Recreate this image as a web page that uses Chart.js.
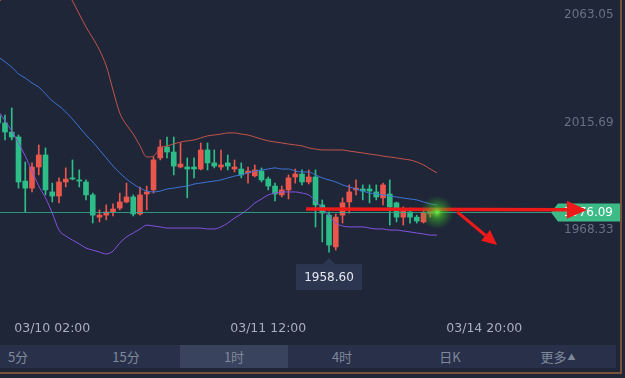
<!DOCTYPE html>
<html>
<head>
<meta charset="utf-8">
<script src="https://cdn.jsdelivr.net/npm/chart.js@4.4.1/dist/chart.umd.min.js"></script>
<style>
html, body { margin: 0; padding: 0; background: #1f2638; overflow: hidden; }
#wrap { position: relative; width: 625px; height: 378px; background: #1f2638; }
#box { position: absolute; left: 0; top: 0; width: 625px; height: 343px; }
.bar { position: absolute; left: 0; top: 345px; width: 616px; height: 23px; background: #29314a; overflow: hidden;
       font-family: "Noto Sans CJK SC", sans-serif; font-size: 13px; color: #7f889b; }
.bar span { position: absolute; top: 0; height: 23px; line-height: 23px; width: 108px; text-align: center; }
.bar span.on { background: #3a435e; }
.bar small { font-size: 8px; vertical-align: 2px; margin-left: 1px; }
.frameR { position: absolute; left: 620px; top: 0; width: 2px; height: 374px; background: #7a5238; }
.frameB { position: absolute; left: 0; top: 372px; width: 622px; height: 2px; background: #7a5238; }
</style>
</head>
<body>
<div id="wrap">
  <div id="box"><canvas id="kChart"></canvas></div>
  <div class="bar" id="periodBar"></div>
  <div class="frameR"></div>
  <div class="frameB"></div>
</div>
<script>
// 1 hour candles, index 0 is the one cut by the left edge
const open  = [2018.6,2015.5,2011.5,2009.3,1989.9,1986.8,1996.1,2001.4,1985.1,1983.3,1989.5,1991.3,1990.4,1989.5,1983.8,1974.0,1974.9,1976.3,1978.0,1980.7,1982.9,1975.4,1984.2,1986.0,2000.1,2004.9,2002.7,1996.1,1996.1,1996.1,1995.2,2003.6,1997.9,1996.1,1997.9,1995.2,1995.2,1993.5,1992.2,1994.3,1990.8,1987.7,1983.8,1986.0,1991.7,1993.0,1989.5,1991.7,1979.4,1974.9,1960.9,1974.9,1980.7,1986.0,1986.4,1986.4,1985.1,1982.5,1984.2,1980.3,1974.0,1976.3,1974.0,1971.9,1975.4,1976.7]
const high  = [2020.3,2019.0,2022.1,2010.2,1998.3,1997.9,2005.8,2004.5,1989.0,1991.3,1995.7,1999.2,1994.8,1990.4,1984.6,1977.2,1979.4,1979.9,1984.6,1989.0,1983.8,1987.3,1987.7,2000.5,2008.0,2009.3,2009.3,2006.7,2000.1,2000.1,2006.7,2006.7,2003.6,2003.6,2001.4,1999.2,1997.9,1996.1,1997.0,1995.7,1991.7,1989.0,1987.7,1992.6,1995.2,1994.8,1994.8,1994.8,1981.6,1976.3,1975.4,1982.5,1988.2,1990.4,1988.2,1988.2,1988.2,1989.0,1990.4,1980.7,1978.5,1978.0,1974.9,1977.2,1978.0,1977.6]
const low   = [2014.2,2008.0,2008.0,1986.8,1976.3,1985.1,1992.6,1983.8,1980.7,1980.3,1987.3,1990.4,1987.3,1981.6,1971.4,1971.9,1972.8,1974.5,1977.2,1980.3,1974.5,1974.9,1977.2,1984.6,1999.2,2000.1,1992.6,1995.7,1982.5,1991.3,1994.8,1994.8,1995.7,1994.8,1994.8,1993.9,1991.3,1989.0,1991.7,1989.5,1986.0,1981.1,1982.9,1982.0,1989.0,1988.2,1988.6,1969.7,1963.1,1958.6,1959.5,1971.4,1975.8,1983.8,1981.6,1980.3,1981.6,1979.4,1970.5,1971.9,1970.5,1971.4,1971.4,1971.4,1974.0,1975.4]
const close = [2015.5,2011.5,2009.3,1989.5,1986.8,1996.1,2001.4,1986.0,1983.3,1989.5,1990.8,1990.8,1989.9,1983.8,1974.9,1974.9,1976.3,1977.6,1980.7,1982.9,1975.4,1983.8,1985.1,1999.2,2004.9,2002.7,1996.5,1997.4,1995.2,1995.2,2003.6,1997.9,1996.5,1997.0,1996.5,1996.1,1992.6,1994.3,1994.8,1990.4,1987.7,1984.2,1986.0,1991.3,1993.0,1989.5,1991.7,1979.4,1975.8,1961.7,1974.0,1980.3,1985.1,1986.8,1985.5,1985.5,1982.9,1988.2,1978.5,1974.0,1976.7,1974.0,1972.3,1975.8,1976.7,1976.09]

// Bollinger bands
const bollUp  = [2068.3,2071.9,2074.9,2077.6,2079.3,2081.1,2082.9,2083.8,2082.9,2080.2,2074.9,2069.2,2063.5,2057.8,2052.9,2047.6,2040.6,2030.0,2019.9,2014.6,2010.6,2005.4,2000.5,2000.9,2004.5,2005.4,2006.2,2007.1,2007.6,2008.0,2008.9,2009.8,2010.2,2010.6,2011.1,2011.1,2010.6,2010.2,2009.3,2008.4,2007.6,2007.1,2006.7,2006.2,2005.8,2005.4,2004.5,2004.0,2003.6,2003.6,2003.6,2003.6,2003.1,2002.7,2002.3,2001.8,2001.4,2000.9,2000.5,2000.1,1999.6,1999.2,1998.3,1997.0,1995.2,1993.5]
const bollMid = [2044.6,2042.4,2040.1,2037.1,2035.3,2033.1,2031.3,2028.3,2025.2,2023.0,2020.3,2017.2,2013.7,2010.2,2007.1,2003.6,2000.1,1996.5,1993.5,1990.8,1988.6,1986.8,1985.5,1985.1,1985.5,1986.4,1986.8,1987.3,1987.7,1988.6,1989.0,1989.5,1989.9,1990.4,1991.3,1992.1,1992.6,1993.5,1994.3,1994.8,1995.2,1995.7,1995.2,1995.2,1994.3,1993.9,1993.9,1992.6,1991.3,1990.4,1989.5,1988.2,1987.3,1986.4,1985.5,1984.6,1984.2,1983.8,1983.3,1982.9,1982.4,1982.0,1981.6,1980.7,1979.8,1979.4]
const bollLow = [2020.8,2016.4,2012.0,2006.7,2000.9,1994.3,1987.7,1982.5,1975.8,1968.3,1965.7,1963.9,1962.2,1960.4,1959.5,1958.6,1957.8,1959.1,1962.6,1965.3,1967.0,1968.8,1970.5,1970.1,1969.7,1969.2,1969.2,1969.2,1969.2,1969.2,1969.2,1968.8,1968.8,1969.7,1971.4,1973.6,1975.4,1977.6,1980.2,1982.0,1983.8,1984.6,1985.1,1985.1,1985.1,1984.6,1983.8,1981.1,1978.0,1974.5,1971.4,1970.1,1969.7,1969.7,1969.7,1969.2,1968.8,1968.8,1968.3,1968.3,1967.9,1967.5,1967.0,1966.6,1966.1,1966.1]

const yTicks = [2063.05, 2015.69, 1968.33]
const xTickAt = [8, 40, 72]
const xTickText = ['03/10 02:00', '03/11 12:00', '03/14 20:00']
const periods = ['5分', '15分', '1时', '4时', '日K', '更多▲']

const UP = '#e9564c', DOWN = '#2dbd88'

// period buttons under the chart
const barEl = document.getElementById('periodBar')
periods.forEach(function (p, i) {
    const s = document.createElement('span')
    s.innerHTML = p.replace('▲', '<small>▲</small>')
    s.style.left = (-36 + i * 108) + 'px'
    if (p === '1时') s.className = 'on'
    barEl.appendChild(s)
})

const idx = open.map((v, i) => i)
const isUp = i => close[i] >= open[i]
const candleColor = ctx => isUp(ctx.dataIndex) ? UP : DOWN

/*========================== marks on top =============================*/
const marks = {
    id: 'marks',
    afterDatasetsDraw(chart) {
        const c = chart.ctx, xs = chart.scales.x, ys = chart.scales.y, area = chart.chartArea
        const last = close.length - 1
        const lastY = ys.getPixelForValue(close[last])
        const lastX = xs.getPixelForValue(last)
        c.save()
        // last price line
        c.strokeStyle = 'rgba(52,170,140,0.85)'
        c.lineWidth = 1
        c.beginPath(); c.moveTo(area.left, Math.round(lastY) + 0.5); c.lineTo(552, Math.round(lastY) + 0.5); c.stroke()

        // last price tag
        c.fillStyle = '#3cbb86'
        c.beginPath()
        c.moveTo(551, lastY)
        c.lineTo(558, lastY - 9); c.lineTo(620, lastY - 9)
        c.lineTo(620, lastY + 9); c.lineTo(558, lastY + 9)
        c.closePath(); c.fill()
        c.fillStyle = '#ffffff'
        c.font = '12px "DejaVu Sans"'
        c.textAlign = 'right'; c.textBaseline = 'middle'
        c.fillText(close[last].toFixed(2), 613, lastY + 0.5)

        // hand drawn red arrows
        const arrows = [
            { from: [45.6, 1977.6], to: [87.2, 1977.2], head: 20, half: 9, w: 3.5 },
            { from: [68.0, 1976.3], to: [73.9, 1961.7], head: 15, half: 7, w: 3 }
        ]
        arrows.forEach(function (a) {
            const x1 = xs.getPixelForValue(a.from[0]), y1 = ys.getPixelForValue(a.from[1])
            const x2 = xs.getPixelForValue(a.to[0]), y2 = ys.getPixelForValue(a.to[1])
            const ang = Math.atan2(y2 - y1, x2 - x1)
            const bx = x2 - Math.cos(ang) * a.head, by = y2 - Math.sin(ang) * a.head
            c.strokeStyle = '#ee1a1a'; c.fillStyle = '#ee1a1a'; c.lineWidth = a.w
            c.beginPath(); c.moveTo(x1, y1); c.lineTo(bx, by); c.stroke()
            c.beginPath()
            c.moveTo(x2, y2)
            c.lineTo(bx + Math.sin(ang) * a.half, by - Math.cos(ang) * a.half)
            c.lineTo(bx - Math.sin(ang) * a.half, by + Math.cos(ang) * a.half)
            c.closePath(); c.fill()
        })

        // glow on the live candle
        const g = c.createRadialGradient(lastX, lastY, 0, lastX, lastY, 17)
        g.addColorStop(0, 'rgba(120,235,60,0.95)')
        g.addColorStop(0.35, 'rgba(70,200,40,0.55)')
        g.addColorStop(1, 'rgba(40,160,40,0)')
        c.fillStyle = g
        c.beginPath(); c.arc(lastX, lastY, 17, 0, Math.PI * 2); c.fill()

        // lowest price callout
        let lo = 0
        low.forEach((v, i) => { if (v < low[lo]) lo = i })
        const lx = xs.getPixelForValue(lo), ly = ys.getPixelForValue(low[lo]) + 6
        c.fillStyle = '#2d3651'
        c.beginPath(); c.moveTo(lx, ly); c.lineTo(lx + 6, ly + 6); c.lineTo(lx - 6, ly + 6); c.closePath(); c.fill()
        c.fillRect(lx - 33, ly + 6, 66, 26)
        c.fillStyle = '#e6e9ef'
        c.textAlign = 'center'
        c.fillText(low[lo].toFixed(2), lx, ly + 19.5)
        c.restore()
    }
}

/*========================== Chart =============================*/
const lineSet = (label, values, color) => ({
    type: 'line',
    label: label,
    data: values.map((v, i) => ({ x: i, y: v })),
    borderColor: color,
    borderWidth: 1,
    pointRadius: 0,
    cubicInterpolationMode: 'monotone',
    order: 0
})

new Chart(document.getElementById('kChart'), {
    type: 'bar',
    data: {
        datasets: [
            lineSet('UP', bollUp, '#c4544a'),
            lineSet('MID', bollMid, '#3f74d6'),
            lineSet('LOW', bollLow, '#8553e0'),
            {
                label: 'body',
                data: idx.map(i => ({ x: i, y: [open[i], close[i]] })),
                backgroundColor: candleColor,
                barThickness: 5,
                minBarLength: 1,
                grouped: false,
                order: 1
            },
            {
                label: 'wick',
                data: idx.map(i => ({ x: i, y: [low[i], high[i]] })),
                backgroundColor: candleColor,
                barThickness: 1,
                grouped: false,
                order: 2
            }
        ]
    },
    options: {
        responsive: true,
        maintainAspectRatio: false,
        animation: false,
        layout: { padding: 0 },
        plugins: { legend: { display: false }, tooltip: { enabled: false } },
        scales: {
            x: {
                type: 'linear',
                offset: false,
                min: 0.2593,
                max: 81.44,
                grid: { display: false, drawTicks: false },
                border: { display: false },
                ticks: {
                    padding: 11,
                    color: '#a9aebb',
                    font: { family: 'DejaVu Sans', size: 12.5 },
                    maxRotation: 0,
                    autoSkip: false,
                    callback: (v, i) => xTickText[i]
                },
                afterBuildTicks: s => { s.ticks = xTickAt.map(v => ({ value: v })) },
                afterFit: s => { s.height = 33; s.paddingLeft = 0; s.paddingRight = 0 }
            },
            y: {
                position: 'right',
                min: 1933.1,
                max: 2069.66,
                grid: { display: false, drawTicks: false },
                border: { display: false },
                ticks: {
                    padding: 16,
                    crossAlign: 'near',
                    color: '#687083',
                    font: { family: 'DejaVu Sans', size: 12 },
                    callback: v => v.toFixed(2)
                },
                afterBuildTicks: s => { s.ticks = yTicks.map(v => ({ value: v })) },
                afterFit: s => { s.width = 77; s.paddingTop = 0; s.paddingBottom = 0 }
            }
        }
    },
    plugins: [marks]
})
</script>
</body>
</html>
